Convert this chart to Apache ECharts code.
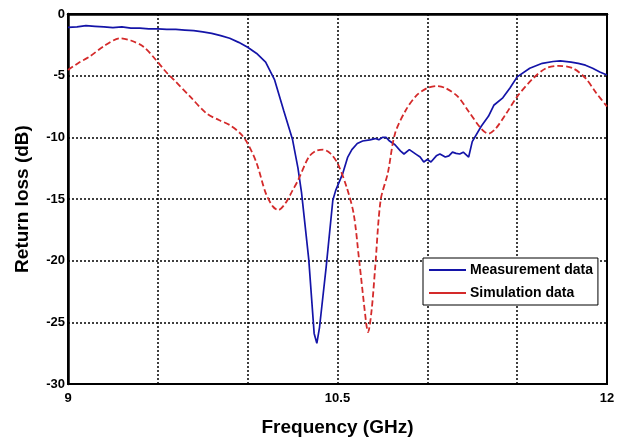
<!DOCTYPE html>
<html><head><meta charset="utf-8">
<script src="https://cdn.jsdelivr.net/npm/echarts@6/dist/echarts.min.js"></script>
<style>html,body{margin:0;padding:0;background:#fff}#c{width:622px;height:438px}</style>
</head><body><div id="c"></div>
<script>
const measFreq = [9.0,9.05,9.1,9.15,9.2,9.25,9.3,9.35,9.4,9.45,9.5,9.55,9.6,9.65,9.7,9.75,9.8,9.85,9.9,9.95,10.0,10.05,10.1,10.15,10.2,10.25,10.28,10.3,10.34,10.37,10.385,10.4,10.437,10.474,10.49,10.53,10.557,10.58,10.61,10.64,10.68,10.71,10.73,10.75,10.77,10.79,10.82,10.85,10.87,10.9,10.92,10.94,10.96,10.98,11.0,11.02,11.05,11.07,11.1,11.12,11.14,11.16,11.18,11.2,11.23,11.25,11.3,11.34,11.37,11.42,11.46,11.5,11.57,11.64,11.7,11.74,11.8,11.84,11.88,11.92,11.96,12.0];
const measVals = [-1.08,-1.05,-0.95,-1.0,-1.05,-1.1,-1.05,-1.15,-1.15,-1.2,-1.2,-1.25,-1.25,-1.3,-1.35,-1.45,-1.57,-1.75,-1.97,-2.3,-2.7,-3.2,-3.9,-5.35,-7.8,-10.2,-12.5,-14.5,-19.9,-25.9,-26.7,-25.4,-20.5,-15.1,-14.3,-12.9,-11.6,-11.0,-10.5,-10.3,-10.2,-10.1,-10.2,-10.0,-10.0,-10.3,-10.6,-11.1,-11.35,-11.0,-11.2,-11.4,-11.6,-12.0,-11.8,-12.0,-11.5,-11.35,-11.6,-11.5,-11.2,-11.3,-11.35,-11.2,-11.6,-10.35,-9.1,-8.3,-7.4,-6.8,-6.0,-5.1,-4.4,-4.0,-3.85,-3.8,-3.9,-4.0,-4.15,-4.4,-4.7,-4.95];
const simFreq = [9.0,9.06,9.12,9.2,9.29,9.35,9.42,9.49,9.54,9.59,9.68,9.77,9.84,9.9,9.96,10.0,10.05,10.1,10.14,10.17,10.21,10.25,10.28,10.34,10.38,10.42,10.46,10.5,10.55,10.59,10.62,10.66,10.67,10.69,10.71,10.74,10.78,10.82,10.88,10.94,11.0,11.05,11.1,11.17,11.23,11.3,11.34,11.38,11.44,11.5,11.59,11.66,11.73,11.81,11.88,11.94,12.0];
const simVals = [-4.54,-3.95,-3.46,-2.6,-1.97,-2.15,-2.65,-3.73,-4.6,-5.35,-6.7,-8.05,-8.6,-9.0,-9.7,-10.5,-12.1,-14.5,-15.6,-15.9,-15.35,-14.3,-13.5,-11.6,-11.1,-11.0,-11.3,-12.1,-14.0,-16.2,-19.9,-25.1,-25.8,-24.0,-20.5,-15.1,-12.9,-9.7,-7.8,-6.6,-6.0,-5.84,-6.0,-6.7,-7.9,-9.3,-9.7,-9.3,-8.05,-6.7,-5.2,-4.4,-4.2,-4.4,-5.2,-6.4,-7.5];
const xLabelsShown = [9, 10.5, 12];
const seriesNames = ['Measurement data', 'Simulation data'];
const xTitle = 'Frequency (GHz)';
const yTitle = 'Return loss (dB)';

const font = '"Liberation Sans", Arial, sans-serif';
const chart = echarts.init(document.getElementById('c'));
chart.setOption({
  animation: false,
  backgroundColor: '#fff',
  grid: {left: 68, right: 15, top: 14, bottom: 54, outerBoundsMode: 'none', containLabel: false,
    show: true, borderColor: '#000', borderWidth: 2, backgroundColor: 'transparent'},
  xAxis: {
    type: 'value', min: 9, max: 12, interval: 0.5,
    name: xTitle, nameLocation: 'middle', nameGap: 34,
    nameTextStyle: {fontFamily: font, fontWeight: 'bold', fontSize: 19, color: '#000'},
    axisLine: {show: true, lineStyle: {color: '#000', width: 2.5}},
    axisTick: {show: false},
    axisLabel: {fontFamily: font, fontWeight: 'bold', fontSize: 13, color: '#000', margin: 8,
      formatter: v => xLabelsShown.some(l => Math.abs(l - v) < 1e-6) ? String(v) : ''},
    splitLine: {show: true, lineStyle: {color: '#000', type: [2, 2], width: 1.5}}
  },
  yAxis: {
    type: 'value', min: -30, max: 0, interval: 5,
    name: yTitle, nameLocation: 'middle', nameGap: 36, nameRotate: 90,
    nameTextStyle: {fontFamily: font, fontWeight: 'bold', fontSize: 19, color: '#000'},
    axisLine: {show: true, lineStyle: {color: '#000', width: 2.5}},
    axisTick: {show: false},
    axisLabel: {fontFamily: font, fontWeight: 'bold', fontSize: 13, color: '#000', margin: 3},
    splitLine: {show: true, lineStyle: {color: '#000', type: [2, 2], width: 1.5}}
  },
  legend: {
    left: 423, top: 258, orient: 'vertical', itemWidth: 37, itemHeight: 10, itemGap: 9,
    padding: [5, 5, 5, 6],
    backgroundColor: '#fff', borderColor: '#000', borderWidth: 1,
    textStyle: {fontFamily: font, fontWeight: 'bold', fontSize: 14, color: '#000', padding: [0, 0, 0, -1]},
    icon: 'path://M0,4 L37,4 L37,6 L0,6 Z',
    data: seriesNames
  },
  series: [
    {name: seriesNames[0], type: 'line', showSymbol: false, symbol: 'none',
     lineStyle: {color: '#1414a8', width: 1.7}, itemStyle: {color: '#1414a8'},
     data: measFreq.map((f, i) => [f, measVals[i]])},
    {name: seriesNames[1], type: 'line', showSymbol: false, symbol: 'none', smooth: 0.3,
     lineStyle: {color: '#d42a2a', width: 1.8, type: [6, 3]}, itemStyle: {color: '#d42a2a'},
     data: simFreq.map((f, i) => [f, simVals[i]])}
  ]
});
</script></body></html>
